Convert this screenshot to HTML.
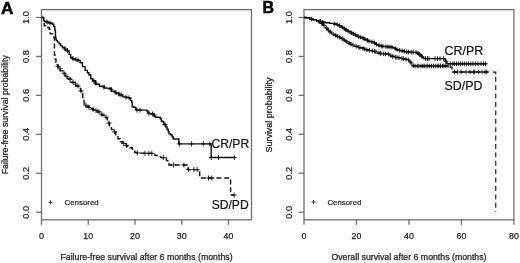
<!DOCTYPE html>
<html><head><meta charset="utf-8"><style>html,body{margin:0;padding:0;background:#fff;width:520px;height:263px;overflow:hidden}svg{display:block;filter:grayscale(1)}</style></head><body>
<svg width="520" height="263" viewBox="0 0 520 263">
<rect width="520" height="263" fill="#fff"/>
<g fill="none" stroke="#6e6e6e" stroke-width="1.3">
<rect x="41.50" y="9.60" width="210.00" height="210.20"/>
<path d="M36.10 212.20H41.50"/>
<path d="M36.10 173.26H41.50"/>
<path d="M36.10 134.32H41.50"/>
<path d="M36.10 95.38H41.50"/>
<path d="M36.10 56.44H41.50"/>
<path d="M36.10 17.50H41.50"/>
<rect x="304.00" y="9.60" width="209.90" height="210.20"/>
<path d="M298.60 212.20H304.00"/>
<path d="M298.60 173.26H304.00"/>
<path d="M298.60 134.32H304.00"/>
<path d="M298.60 95.38H304.00"/>
<path d="M298.60 56.44H304.00"/>
<path d="M298.60 17.50H304.00"/>
</g>
<g fill="none" stroke="#6e6e6e" stroke-width="1.3">
<path d="M41.50 219.80V224.80"/>
<path d="M88.25 219.80V224.80"/>
<path d="M135.00 219.80V224.80"/>
<path d="M181.75 219.80V224.80"/>
<path d="M228.50 219.80V224.80"/>
<path d="M304.00 219.80V224.80"/>
<path d="M356.48 219.80V224.80"/>
<path d="M408.95 219.80V224.80"/>
<path d="M461.42 219.80V224.80"/>
<path d="M513.90 219.80V224.80"/>
</g>
<g font-family="Liberation Sans, sans-serif" font-size="8.8" fill="#222" stroke="#222" stroke-width="0.25" text-anchor="middle">
<text x="41.50" y="238.8">0</text>
<text x="88.25" y="238.8">10</text>
<text x="135.00" y="238.8">20</text>
<text x="181.75" y="238.8">30</text>
<text x="228.50" y="238.8">40</text>
<text x="304.00" y="238.8">0</text>
<text x="356.48" y="238.8">20</text>
<text x="408.95" y="238.8">40</text>
<text x="461.42" y="238.8">60</text>
<text x="513.90" y="238.8">80</text>
<text transform="translate(29.10 212.20) rotate(-90)" x="0" y="0" font-size="9.3">0.0</text>
<text transform="translate(29.10 173.26) rotate(-90)" x="0" y="0" font-size="9.3">0.2</text>
<text transform="translate(29.10 134.32) rotate(-90)" x="0" y="0" font-size="9.3">0.4</text>
<text transform="translate(29.10 95.38) rotate(-90)" x="0" y="0" font-size="9.3">0.6</text>
<text transform="translate(29.10 56.44) rotate(-90)" x="0" y="0" font-size="9.3">0.8</text>
<text transform="translate(29.10 17.50) rotate(-90)" x="0" y="0" font-size="9.3">1.0</text>
<text transform="translate(291.60 212.20) rotate(-90)" x="0" y="0" font-size="9.3">0.0</text>
<text transform="translate(291.60 173.26) rotate(-90)" x="0" y="0" font-size="9.3">0.2</text>
<text transform="translate(291.60 134.32) rotate(-90)" x="0" y="0" font-size="9.3">0.4</text>
<text transform="translate(291.60 95.38) rotate(-90)" x="0" y="0" font-size="9.3">0.6</text>
<text transform="translate(291.60 56.44) rotate(-90)" x="0" y="0" font-size="9.3">0.8</text>
<text transform="translate(291.60 17.50) rotate(-90)" x="0" y="0" font-size="9.3">1.0</text>
</g>
<g font-family="Liberation Sans, sans-serif" font-size="8.75" fill="#222" stroke="#222" stroke-width="0.25" text-anchor="middle">
<text x="146.50" y="259.8">Failure-free survival after 6 months (months)</text>
<text x="408.95" y="259.8">Overall survival after 6 months (months)</text>
<text transform="translate(8.4 114.70) rotate(-90)">Failure-free survival probability</text>
<text transform="translate(271.7 115.00) rotate(-90)" font-size="8.95">Survival probability</text>
</g>
<g font-family="Liberation Sans, sans-serif" font-weight="bold" font-size="16" fill="#000" stroke="#000" stroke-width="0.5">
<text x="0.9" y="13.6" font-size="17.2">A</text><text x="262.4" y="12.7">B</text>
</g>
<g font-family="Liberation Sans, sans-serif" font-size="7.85" fill="#222" stroke="#222" stroke-width="0.2">
<text x="64.6" y="204.9">Censored</text><text x="327.4" y="204.9">Censored</text>
</g>
<g font-family="Liberation Sans, sans-serif" font-size="12.1" fill="#111" stroke="#111" stroke-width="0.2">
<text x="211.5" y="148.4">CR/PR</text><text x="211.7" y="208.7">SD/PD</text>
<text x="444.6" y="55.1" font-size="12.4">CR/PR</text><text x="444.6" y="90.3" font-size="12.4">SD/PD</text>
</g>
<g stroke="#222" stroke-width="0.9"><path d="M48.5 202.3h4M50.5 200.3v4M311.5 202h4M313.5 200v4"/></g>
<g fill="none" stroke="#111" stroke-width="1.4">
<path d="M41.50 17.50 L43.70 17.50 L43.70 20.50 L44.35 20.50 L44.35 21.20 L45.00 21.20 L46.05 21.20 L46.05 22.00 L47.10 22.00 L48.05 22.00 L48.05 22.80 L49.00 22.80 L50.35 22.80 L50.35 23.30 L51.70 23.30 L52.35 23.30 L52.35 24.30 L53.00 24.30 L53.70 24.30 L53.70 26.60 L54.40 26.60 L54.85 26.60 L54.85 30.20 L55.30 30.20 L55.45 30.20 L55.45 36.80 L55.60 36.80 L55.80 36.80 L55.80 39.10 L56.00 39.10 L56.35 39.10 L56.35 40.60 L56.70 40.60 L57.50 40.60 L57.50 42.10 L58.30 42.10 L59.05 42.10 L59.05 43.70 L59.80 43.70 L60.55 43.70 L60.55 45.90 L61.30 45.90 L62.45 45.90 L62.45 47.50 L63.60 47.50 L64.75 47.50 L64.75 49.70 L65.90 49.70 L67.15 49.70 L67.15 51.40 L68.40 51.40 L69.15 51.40 L69.15 54.40 L69.90 54.40 L70.65 54.40 L70.65 57.50 L71.40 57.50 L72.55 57.50 L72.55 59.00 L73.70 59.00 L75.20 59.00 L75.20 59.80 L76.70 59.80 L77.85 59.80 L77.85 60.50 L79.00 60.50 L80.15 60.50 L80.15 62.80 L81.30 62.80 L82.45 62.80 L82.45 66.60 L83.60 66.60 L85.10 66.60 L85.10 70.40 L86.60 70.40 L87.38 70.40 L87.38 72.70 L88.92 72.70 L88.92 75.00 L89.70 75.00 L90.80 75.00 L90.80 78.80 L91.90 78.80 L92.70 78.80 L92.70 80.80 L93.50 80.80 L95.30 80.80 L95.30 84.30 L97.10 84.30 L99.45 84.30 L99.45 86.20 L101.80 86.20 L104.20 86.20 L104.20 88.10 L106.60 88.10 L108.05 88.10 L108.05 88.30 L109.50 88.30 L111.40 88.30 L111.40 91.20 L113.30 91.20 L115.20 91.20 L115.20 93.10 L117.10 93.10 L119.00 93.10 L119.00 95.00 L120.90 95.00 L122.80 95.00 L122.80 96.90 L124.70 96.90 L126.60 96.90 L126.60 97.60 L128.50 97.60 L129.40 97.60 L129.40 98.40 L130.30 98.40 L130.75 98.40 L130.75 100.60 L131.20 100.60 L131.70 100.60 L131.70 102.00 L132.20 102.00 L132.20 106.70 L133.60 106.70 L133.60 107.20 L135.00 107.20 L135.65 107.20 L135.65 109.00 L136.30 109.00 L136.55 109.00 L136.55 110.10 L136.80 110.10 L146.40 110.10 L146.90 110.10 L146.90 111.00 L147.40 111.00 L147.85 111.00 L147.85 112.40 L148.30 112.40 L148.80 112.40 L148.80 113.60 L149.30 113.60 L151.35 113.60 L151.35 114.10 L153.40 114.10 L154.15 114.10 L154.15 116.20 L154.90 116.20 L155.65 116.20 L155.65 117.20 L156.40 117.20 L159.40 117.20 L160.20 117.20 L160.20 118.70 L161.00 118.70 L161.35 118.70 L161.35 121.00 L161.70 121.00 L162.50 121.00 L162.50 121.70 L163.30 121.70 L163.65 121.70 L163.65 124.00 L164.00 124.00 L164.75 124.00 L164.75 124.80 L165.50 124.80 L165.90 124.80 L165.90 127.00 L166.30 127.00 L167.05 127.00 L167.05 129.30 L167.80 129.30 L168.20 129.30 L168.20 131.60 L168.60 131.60 L168.95 131.60 L168.95 133.90 L169.30 133.90 L170.45 133.90 L170.45 134.70 L171.60 134.70 L172.05 134.70 L172.05 136.50 L172.50 136.50 L172.95 136.50 L172.95 137.70 L173.40 137.70 L173.40 139.00 L178.80 139.00 L178.80 143.90 L211.20 143.90 L211.20 157.50 L234.60 157.50"/>
<path d="M304.00 17.50 L306.00 17.50 L306.00 17.70 L308.00 17.70 L309.70 17.70 L309.70 19.10 L311.40 19.10 L313.10 19.10 L313.10 19.80 L314.80 19.80 L316.50 19.80 L316.50 20.60 L318.20 20.60 L320.50 20.60 L320.50 22.00 L322.80 22.00 L325.10 22.00 L325.10 22.80 L327.40 22.80 L329.65 22.80 L329.65 23.40 L331.90 23.40 L333.60 23.40 L333.60 24.00 L335.30 24.00 L336.85 24.00 L336.85 24.90 L338.40 24.90 L339.25 24.90 L339.25 25.95 L340.95 25.95 L340.95 27.00 L341.80 27.00 L342.68 27.00 L342.68 28.15 L344.43 28.15 L344.43 29.30 L345.30 29.30 L346.15 29.30 L346.15 30.40 L347.85 30.40 L347.85 31.50 L348.70 31.50 L350.40 31.50 L350.40 33.20 L352.10 33.20 L353.80 33.20 L353.80 35.00 L355.50 35.00 L357.25 35.00 L357.25 36.70 L359.00 36.70 L360.70 36.70 L360.70 37.80 L362.40 37.80 L364.10 37.80 L364.10 39.50 L365.80 39.50 L367.50 39.50 L367.50 41.40 L369.20 41.40 L371.30 41.40 L371.30 42.00 L373.40 42.00 L374.25 42.00 L374.25 43.30 L375.95 43.30 L375.95 44.60 L376.80 44.60 L378.55 44.60 L378.55 45.90 L380.30 45.90 L382.55 45.90 L382.55 46.50 L384.80 46.50 L387.65 46.50 L387.65 47.00 L390.50 47.00 L392.20 47.00 L392.20 47.60 L393.90 47.60 L394.77 47.60 L394.77 48.70 L396.52 48.70 L396.52 49.80 L397.40 49.80 L399.65 49.80 L399.65 50.80 L401.90 50.80 L404.20 50.80 L404.20 51.70 L406.50 51.70 L408.25 51.70 L408.25 52.30 L410.00 52.30 L413.20 52.30 L413.20 52.40 L416.40 52.40 L417.55 52.40 L417.55 53.60 L418.70 53.60 L419.27 53.60 L419.27 54.70 L420.43 54.70 L420.43 55.80 L421.00 55.80 L422.10 55.80 L422.10 57.50 L423.20 57.50 L423.80 57.50 L423.80 58.60 L424.40 58.60 L444.60 58.60 L445.15 58.60 L445.15 60.80 L445.70 60.80 L446.25 60.80 L446.25 63.10 L446.80 63.10 L447.40 63.10 L447.40 63.80 L448.00 63.80 L486.70 63.80"/>
</g>
<g fill="none" stroke="#111" stroke-width="1.4" stroke-dasharray="5 2.8">
<path d="M41.50 17.50 L43.40 17.50 L43.45 17.50 L43.45 22.00 L43.50 22.00 L44.15 22.00 L44.15 25.70 L44.80 25.70 L46.65 25.70 L46.65 27.50 L48.50 27.50 L49.20 27.50 L49.20 29.30 L49.90 29.30 L50.10 29.30 L50.10 33.90 L50.30 33.90 L53.50 33.90 L53.90 33.90 L53.90 37.60 L54.30 37.60 L54.45 37.60 L54.45 55.00 L54.60 55.00 L55.05 55.00 L55.05 59.00 L55.50 59.00 L55.95 59.00 L55.95 62.30 L56.40 62.30 L56.88 62.30 L56.88 64.65 L57.82 64.65 L57.82 67.00 L58.30 67.00 L60.20 67.00 L60.20 70.90 L62.10 70.90 L63.05 70.90 L63.05 73.25 L64.95 73.25 L64.95 75.60 L65.90 75.60 L67.35 75.60 L67.35 78.50 L68.80 78.50 L71.05 78.50 L71.05 82.40 L73.30 82.40 L75.70 82.40 L75.70 86.20 L78.10 86.20 L79.05 86.20 L79.05 88.50 L80.00 88.50 L80.50 88.50 L80.50 90.90 L81.50 90.90 L81.50 93.30 L82.00 93.30 L82.75 93.30 L82.75 99.00 L83.50 99.00 L84.10 99.00 L84.10 104.00 L84.70 104.00 L86.10 104.00 L86.10 106.50 L87.50 106.50 L89.40 106.50 L89.40 108.80 L91.30 108.80 L93.25 108.80 L93.25 110.20 L95.20 110.20 L97.35 110.20 L97.35 112.00 L99.50 112.00 L101.40 112.00 L101.40 115.20 L103.30 115.20 L104.95 115.20 L104.95 117.50 L106.60 117.50 L107.35 117.50 L107.35 120.50 L108.10 120.50 L108.57 120.50 L108.57 123.25 L109.53 123.25 L109.53 126.00 L110.00 126.00 L111.50 126.00 L111.50 129.60 L113.00 129.60 L113.95 129.60 L113.95 132.25 L115.85 132.25 L115.85 134.90 L116.80 134.90 L117.95 134.90 L117.95 138.70 L119.10 138.70 L120.25 138.70 L120.25 141.70 L121.40 141.70 L122.90 141.70 L122.90 144.00 L124.40 144.00 L126.30 144.00 L126.30 146.30 L128.20 146.30 L129.75 146.30 L129.75 147.80 L131.30 147.80 L132.45 147.80 L132.45 150.10 L133.60 150.10 L134.70 150.10 L134.70 152.40 L135.80 152.40 L136.95 152.40 L136.95 153.10 L138.10 153.10 L146.10 153.10 L146.10 153.40 L154.10 153.40 L154.85 153.40 L154.85 155.40 L155.60 155.40 L157.10 155.40 L157.10 156.90 L158.60 156.90 L160.85 156.90 L160.85 157.60 L163.10 157.60 L164.30 157.60 L164.30 158.00 L165.50 158.00 L166.40 158.00 L166.40 160.50 L167.30 160.50 L167.80 160.50 L167.80 163.50 L168.30 163.50 L168.90 163.50 L168.90 165.00 L169.50 165.00 L187.90 165.00 L187.90 169.60 L199.70 169.60 L199.70 178.00 L230.60 178.00 L230.60 195.00 L234.20 195.00"/>
<path d="M304.00 17.50 L306.00 17.50 L306.00 17.70 L308.00 17.70 L309.70 17.70 L309.70 19.10 L311.40 19.10 L313.10 19.10 L313.10 19.80 L314.80 19.80 L316.50 19.80 L316.50 21.00 L318.20 21.00 L319.07 21.00 L319.07 22.20 L320.82 22.20 L320.82 23.40 L321.70 23.40 L322.52 23.40 L322.52 24.85 L324.18 24.85 L324.18 26.30 L325.00 26.30 L325.50 26.30 L325.50 27.43 L326.50 27.43 L326.50 28.57 L327.50 28.57 L327.50 29.70 L328.00 29.70 L328.70 29.70 L328.70 31.10 L330.10 31.10 L330.10 32.50 L330.80 32.50 L331.65 32.50 L331.65 33.65 L333.35 33.65 L333.35 34.80 L334.20 34.80 L335.90 34.80 L335.90 36.30 L337.60 36.30 L338.65 36.30 L338.65 37.35 L340.75 37.35 L340.75 38.40 L341.80 38.40 L342.68 38.40 L342.68 39.55 L344.43 39.55 L344.43 40.70 L345.30 40.70 L346.15 40.70 L346.15 41.85 L347.85 41.85 L347.85 43.00 L348.70 43.00 L350.40 43.00 L350.40 44.60 L352.10 44.60 L354.05 44.60 L354.05 46.30 L356.00 46.30 L358.35 46.30 L358.35 47.80 L360.70 47.80 L363.55 47.80 L363.55 49.70 L366.40 49.70 L368.20 49.70 L368.20 50.50 L370.00 50.50 L372.30 50.50 L372.30 51.40 L374.60 51.40 L376.85 51.40 L376.85 53.20 L379.10 53.20 L381.40 53.20 L381.40 53.80 L383.70 53.80 L385.95 53.80 L385.95 54.00 L388.20 54.00 L389.07 54.00 L389.07 55.10 L390.82 55.10 L390.82 56.20 L391.70 56.20 L393.95 56.20 L393.95 57.40 L396.20 57.40 L398.50 57.40 L398.50 57.90 L400.80 57.90 L403.05 57.90 L403.05 59.20 L405.30 59.20 L406.85 59.20 L406.85 59.80 L408.40 59.80 L408.97 59.80 L408.97 60.95 L410.12 60.95 L410.12 62.10 L410.70 62.10 L411.12 62.10 L411.12 63.55 L411.97 63.55 L411.97 65.00 L412.40 65.00 L413.00 65.00 L413.00 66.00 L413.60 66.00 L449.10 66.00 L450.25 66.00 L450.25 67.10 L451.40 67.10 L451.95 67.10 L451.95 70.00 L452.50 70.00 L453.10 70.00 L453.10 72.00 L453.70 72.00 L489.20 72.00"/>
</g>
<path d="M492.6 72.2H495.7V74.2" fill="none" stroke="#222" stroke-width="1.3"/>
<path d="M495.7 76.8V212" fill="none" stroke="#333" stroke-width="1.3" stroke-dasharray="4.9 3.5"/>
<g fill="none" stroke="#111" stroke-width="0.9">
<path d="M44.50 21.96h5.00M47.00 19.46v5.00"/><path d="M47.50 22.99h5.00M50.00 20.49v5.00"/><path d="M62.50 48.84h5.00M65.00 46.34v5.00"/><path d="M65.00 50.79h5.00M67.50 48.29v5.00"/><path d="M70.50 58.54h5.00M73.00 56.04v5.00"/><path d="M73.50 59.61h5.00M76.00 57.11v5.00"/><path d="M75.50 60.20h5.00M78.00 57.70v5.00"/><path d="M91.50 81.29h5.00M94.00 78.79v5.00"/><path d="M93.50 83.23h5.00M96.00 80.73v5.00"/><path d="M101.50 87.07h5.00M104.00 84.57v5.00"/><path d="M108.50 89.44h5.00M111.00 86.94v5.00"/><path d="M113.50 92.55h5.00M116.00 90.05v5.00"/><path d="M116.50 94.05h5.00M119.00 91.55v5.00"/><path d="M118.50 95.05h5.00M121.00 92.55v5.00"/><path d="M123.50 97.14h5.00M126.00 94.64v5.00"/><path d="M126.50 97.82h5.00M129.00 95.32v5.00"/><path d="M134.50 110.10h5.00M137.00 107.60v5.00"/><path d="M137.50 110.10h5.00M140.00 107.60v5.00"/><path d="M146.50 113.24h5.00M149.00 110.74v5.00"/><path d="M150.00 113.99h5.00M152.50 111.49v5.00"/><path d="M151.50 114.94h5.00M154.00 112.44v5.00"/><path d="M162.50 124.53h5.00M165.00 122.03v5.00"/><path d="M176.90 143.90h5.00M179.40 141.40v5.00"/><path d="M189.00 143.90h5.00M191.50 141.40v5.00"/><path d="M200.90 143.90h5.00M203.40 141.40v5.00"/><path d="M207.30 143.90h5.00M209.80 141.40v5.00"/><path d="M208.70 157.50h5.00M211.20 155.00v5.00"/><path d="M216.00 157.50h5.00M218.50 155.00v5.00"/><path d="M231.80 157.50h5.00M234.30 155.00v5.00"/><path d="M55.50 66.26h5.00M58.00 63.76v5.00"/><path d="M57.50 68.74h5.00M60.00 66.24v5.00"/><path d="M61.50 73.25h5.00M64.00 70.75v5.00"/><path d="M64.50 76.70h5.00M67.00 74.20v5.00"/><path d="M67.50 79.54h5.00M70.00 77.04v5.00"/><path d="M70.50 82.14h5.00M73.00 79.64v5.00"/><path d="M73.00 84.14h5.00M75.50 81.64v5.00"/><path d="M75.50 86.12h5.00M78.00 83.62v5.00"/><path d="M78.50 90.90h5.00M81.00 88.40v5.00"/><path d="M83.50 105.16h5.00M86.00 102.66v5.00"/><path d="M86.50 107.41h5.00M89.00 104.91v5.00"/><path d="M90.50 109.41h5.00M93.00 106.91v5.00"/><path d="M93.50 110.53h5.00M96.00 108.03v5.00"/><path d="M96.50 111.79h5.00M99.00 109.29v5.00"/><path d="M99.50 114.11h5.00M102.00 111.61v5.00"/><path d="M103.50 117.08h5.00M106.00 114.58v5.00"/><path d="M106.50 123.11h5.00M109.00 120.61v5.00"/><path d="M112.10 131.83h5.00M114.60 129.33v5.00"/><path d="M121.20 143.46h5.00M123.70 140.96v5.00"/><path d="M124.20 145.39h5.00M126.70 142.89v5.00"/><path d="M134.90 152.89h5.00M137.40 150.39v5.00"/><path d="M142.50 153.23h5.00M145.00 150.73v5.00"/><path d="M146.30 153.30h5.00M148.80 150.80v5.00"/><path d="M149.30 153.36h5.00M151.80 150.86v5.00"/><path d="M160.80 157.63h5.00M163.30 155.13v5.00"/><path d="M170.80 165.00h5.00M173.30 162.50v5.00"/><path d="M181.40 165.00h5.00M183.90 162.50v5.00"/><path d="M186.10 169.60h5.00M188.60 167.10v5.00"/><path d="M191.40 169.60h5.00M193.90 167.10v5.00"/><path d="M194.70 169.60h5.00M197.20 167.10v5.00"/><path d="M206.00 178.00h5.00M208.50 175.50v5.00"/><path d="M209.20 178.00h5.00M211.70 175.50v5.00"/><path d="M231.70 195.00h5.00M234.20 192.50v5.00"/><path d="M309.10 19.10h4.60M311.40 16.80v4.60"/><path d="M318.20 21.30h4.60M320.50 19.00v4.60"/><path d="M320.50 22.00h4.60M322.80 19.70v4.60"/><path d="M332.39 23.89h4.60M334.69 21.59v4.60"/><path d="M335.05 24.60h4.60M337.35 22.30v4.60"/><path d="M337.14 25.54h4.60M339.44 23.24v4.60"/><path d="M339.72 27.15h4.60M342.02 24.85v4.60"/><path d="M342.05 28.68h4.60M344.35 26.38v4.60"/><path d="M343.68 29.74h4.60M345.98 27.44v4.60"/><path d="M345.92 31.19h4.60M348.22 28.89v4.60"/><path d="M349.20 32.90h4.60M351.50 30.60v4.60"/><path d="M350.81 33.74h4.60M353.11 31.44v4.60"/><path d="M353.08 34.94h4.60M355.38 32.64v4.60"/><path d="M356.29 36.50h4.60M358.59 34.20v4.60"/><path d="M357.96 37.11h4.60M360.26 34.81v4.60"/><path d="M360.70 38.10h4.60M363.00 35.80v4.60"/><path d="M362.57 39.04h4.60M364.87 36.74v4.60"/><path d="M365.07 40.38h4.60M367.37 38.08v4.60"/><path d="M366.78 41.33h4.60M369.08 39.03v4.60"/><path d="M369.66 41.79h4.60M371.96 39.49v4.60"/><path d="M372.24 42.87h4.60M374.54 40.57v4.60"/><path d="M374.13 44.32h4.60M376.43 42.02v4.60"/><path d="M376.69 45.41h4.60M378.99 43.11v4.60"/><path d="M378.91 46.02h4.60M381.21 43.72v4.60"/><path d="M380.48 46.23h4.60M382.78 43.93v4.60"/><path d="M383.61 46.60h4.60M385.91 44.30v4.60"/><path d="M385.71 46.78h4.60M388.01 44.48v4.60"/><path d="M387.66 46.95h4.60M389.96 44.65v4.60"/><path d="M389.64 47.25h4.60M391.94 44.95v4.60"/><path d="M392.94 48.44h4.60M395.24 46.14v4.60"/><path d="M394.77 49.59h4.60M397.07 47.29v4.60"/><path d="M397.36 50.30h4.60M399.66 48.00v4.60"/><path d="M399.85 50.85h4.60M402.15 48.55v4.60"/><path d="M401.96 51.26h4.60M404.26 48.96v4.60"/><path d="M404.51 51.75h4.60M406.81 49.45v4.60"/><path d="M406.17 52.04h4.60M408.47 49.74v4.60"/><path d="M408.96 52.32h4.60M411.26 50.02v4.60"/><path d="M410.83 52.35h4.60M413.13 50.05v4.60"/><path d="M413.72 52.39h4.60M416.02 50.09v4.60"/><path d="M415.95 53.37h4.60M418.25 51.07v4.60"/><path d="M417.32 54.48h4.60M419.62 52.18v4.60"/><path d="M419.66 56.54h4.60M421.96 54.24v4.60"/><path d="M423.20 58.60h4.60M425.50 56.30v4.60"/><path d="M425.20 58.60h4.60M427.50 56.30v4.60"/><path d="M426.70 58.60h4.60M429.00 56.30v4.60"/><path d="M432.70 58.60h4.60M435.00 56.30v4.60"/><path d="M435.20 58.60h4.60M437.50 56.30v4.60"/><path d="M437.70 58.60h4.60M440.00 56.30v4.60"/><path d="M441.20 58.60h4.60M443.50 56.30v4.60"/><path d="M443.70 61.43h4.60M446.00 59.13v4.60"/><path d="M447.97 63.80h4.60M450.27 61.50v4.60"/><path d="M450.57 63.80h4.60M452.87 61.50v4.60"/><path d="M452.15 63.80h4.60M454.45 61.50v4.60"/><path d="M454.30 63.80h4.60M456.60 61.50v4.60"/><path d="M456.04 63.80h4.60M458.34 61.50v4.60"/><path d="M458.21 63.80h4.60M460.51 61.50v4.60"/><path d="M460.11 63.80h4.60M462.41 61.50v4.60"/><path d="M462.08 63.80h4.60M464.38 61.50v4.60"/><path d="M464.27 63.80h4.60M466.57 61.50v4.60"/><path d="M466.27 63.80h4.60M468.57 61.50v4.60"/><path d="M468.52 63.80h4.60M470.82 61.50v4.60"/><path d="M470.70 63.80h4.60M473.00 61.50v4.60"/><path d="M473.00 63.80h4.60M475.30 61.50v4.60"/><path d="M475.70 63.80h4.60M478.00 61.50v4.60"/><path d="M478.70 63.80h4.60M481.00 61.50v4.60"/><path d="M481.20 63.80h4.60M483.50 61.50v4.60"/><path d="M483.20 63.80h4.60M485.50 61.50v4.60"/><path d="M316.92 21.70h4.60M319.22 19.40v4.60"/><path d="M319.51 23.50h4.60M321.81 21.20v4.60"/><path d="M321.73 25.45h4.60M324.03 23.15v4.60"/><path d="M324.19 27.99h4.60M326.49 25.69v4.60"/><path d="M326.11 30.11h4.60M328.41 27.81v4.60"/><path d="M327.80 31.80h4.60M330.10 29.50v4.60"/><path d="M330.93 34.15h4.60M333.23 31.85v4.60"/><path d="M333.36 35.44h4.60M335.66 33.14v4.60"/><path d="M335.59 36.44h4.60M337.89 34.14v4.60"/><path d="M337.48 37.39h4.60M339.78 35.09v4.60"/><path d="M339.96 38.70h4.60M342.26 36.40v4.60"/><path d="M341.65 39.82h4.60M343.95 37.52v4.60"/><path d="M344.70 41.85h4.60M347.00 39.55v4.60"/><path d="M346.69 43.14h4.60M348.99 40.84v4.60"/><path d="M348.64 44.06h4.60M350.94 41.76v4.60"/><path d="M350.68 44.98h4.60M352.98 42.68v4.60"/><path d="M353.92 46.37h4.60M356.22 44.07v4.60"/><path d="M356.39 47.16h4.60M358.69 44.86v4.60"/><path d="M357.61 47.55h4.60M359.91 45.25v4.60"/><path d="M360.76 48.59h4.60M363.06 46.29v4.60"/><path d="M362.59 49.20h4.60M364.89 46.90v4.60"/><path d="M364.58 49.81h4.60M366.88 47.51v4.60"/><path d="M367.05 50.36h4.60M369.35 48.06v4.60"/><path d="M369.92 50.93h4.60M372.22 48.63v4.60"/><path d="M372.35 51.42h4.60M374.65 49.12v4.60"/><path d="M373.65 51.94h4.60M375.95 49.64v4.60"/><path d="M376.64 53.13h4.60M378.94 50.83v4.60"/><path d="M378.25 53.39h4.60M380.55 51.09v4.60"/><path d="M381.36 53.80h4.60M383.66 51.50v4.60"/><path d="M383.20 53.88h4.60M385.50 51.58v4.60"/><path d="M386.16 54.16h4.60M388.46 51.86v4.60"/><path d="M388.58 55.68h4.60M390.88 53.38v4.60"/><path d="M390.31 56.44h4.60M392.61 54.14v4.60"/><path d="M393.20 57.21h4.60M395.50 54.91v4.60"/><path d="M394.67 57.48h4.60M396.97 55.18v4.60"/><path d="M396.69 57.70h4.60M398.99 55.40v4.60"/><path d="M399.62 58.22h4.60M401.92 55.92v4.60"/><path d="M401.24 58.69h4.60M403.54 56.39v4.60"/><path d="M403.74 59.34h4.60M406.04 57.04v4.60"/><path d="M406.29 59.99h4.60M408.59 57.69v4.60"/><path d="M408.83 62.84h4.60M411.13 60.54v4.60"/><path d="M410.99 65.74h4.60M413.29 63.44v4.60"/><path d="M412.73 66.00h4.60M415.03 63.70v4.60"/><path d="M415.02 66.00h4.60M417.32 63.70v4.60"/><path d="M416.49 66.00h4.60M418.79 63.70v4.60"/><path d="M418.68 66.00h4.60M420.98 63.70v4.60"/><path d="M420.44 66.00h4.60M422.74 63.70v4.60"/><path d="M421.93 66.00h4.60M424.23 63.70v4.60"/><path d="M423.78 66.00h4.60M426.08 63.70v4.60"/><path d="M425.61 66.00h4.60M427.91 63.70v4.60"/><path d="M427.49 66.00h4.60M429.79 63.70v4.60"/><path d="M429.26 66.00h4.60M431.56 63.70v4.60"/><path d="M431.04 66.00h4.60M433.34 63.70v4.60"/><path d="M432.87 66.00h4.60M435.17 63.70v4.60"/><path d="M434.86 66.00h4.60M437.16 63.70v4.60"/><path d="M436.40 66.00h4.60M438.70 63.70v4.60"/><path d="M438.16 66.00h4.60M440.46 63.70v4.60"/><path d="M440.13 66.00h4.60M442.43 63.70v4.60"/><path d="M441.64 66.00h4.60M443.94 63.70v4.60"/><path d="M443.48 66.00h4.60M445.78 63.70v4.60"/><path d="M445.69 66.00h4.60M447.99 63.70v4.60"/><path d="M452.20 72.00h4.60M454.50 69.70v4.60"/><path d="M455.20 72.00h4.60M457.50 69.70v4.60"/><path d="M458.70 72.00h4.60M461.00 69.70v4.60"/><path d="M463.80 72.00h4.60M466.10 69.70v4.60"/><path d="M467.80 72.00h4.60M470.10 69.70v4.60"/><path d="M471.30 72.00h4.60M473.60 69.70v4.60"/><path d="M472.40 72.00h4.60M474.70 69.70v4.60"/><path d="M476.40 72.00h4.60M478.70 69.70v4.60"/><path d="M479.80 72.00h4.60M482.10 69.70v4.60"/><path d="M482.70 72.00h4.60M485.00 69.70v4.60"/><path d="M484.40 72.00h4.60M486.70 69.70v4.60"/>
</g>
</svg>
</body></html>
